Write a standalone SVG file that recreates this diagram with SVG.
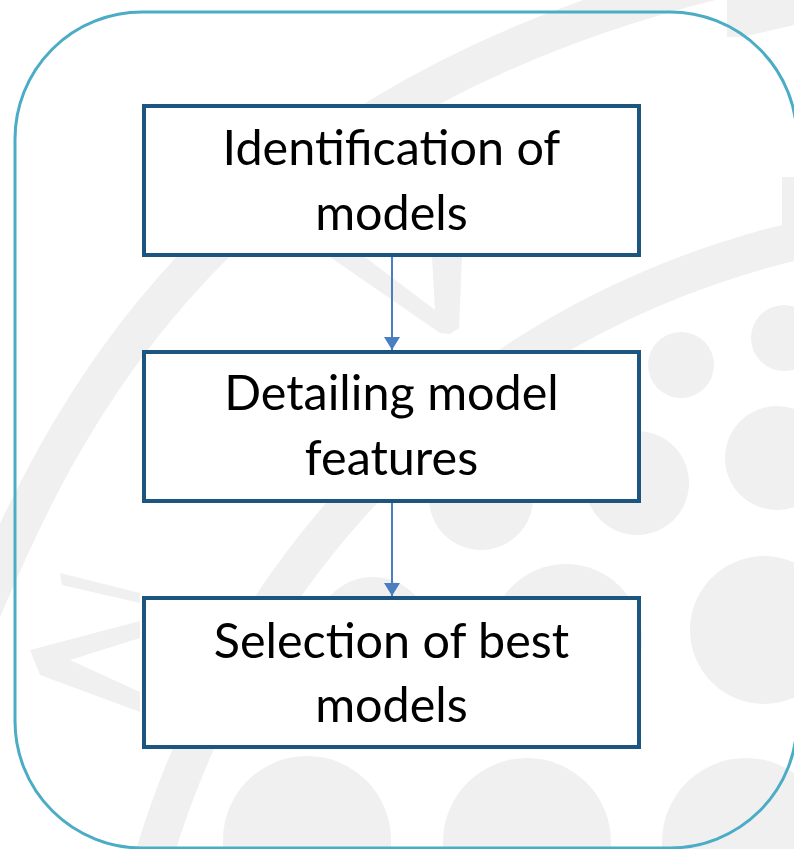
<svg xmlns="http://www.w3.org/2000/svg" width="794" height="849" viewBox="0 0 794 849">
<style>
.wm{fill:#F0F0F0;stroke:none}
.band{fill:none;stroke:#F0F0F0;stroke-width:38}
.box{fill:#FFFFFF;stroke:#1B5580;stroke-width:4}
.lbl{font-family:Lato,"Liberation Sans",sans-serif;font-size:48.5px;fill:#000000;text-anchor:middle}
.conn{stroke:#4A7EC0;stroke-width:2;fill:none}
</style>
<defs>
<marker id="ah" markerUnits="userSpaceOnUse" markerWidth="14" markerHeight="16" refX="13" refY="8" orient="auto" viewBox="0 0 13 16">
<path d="M0,0 L13,8 L0,16 Z" fill="#4A7EC0"/>
</marker>
</defs>
<rect x="0" y="0" width="794" height="849" fill="#FFFFFF"/>
<g id="watermark">
<path class="band" d="M -30 640 C 60 420, 210 90, 760 -30"/>
<path class="band" d="M 150 870 C 220 620, 420 330, 800 240"/>
<polygon class="wm" points="330,257 365,257 435,310 432,257 462,257 459,328 450,334 440,333"/>
<polygon class="wm" points="30,650 140,621 140,638 70,660 140,692 140,712 40,675"/>
<polygon class="wm" points="60,573 140,593 140,603 62,585"/>
<polygon class="wm" points="727,0 794,0 794,25 742,37 727,37"/>
<rect class="wm" x="782" y="177" width="12" height="50"/>
<circle class="wm" cx="681" cy="365" r="33"/>
<circle class="wm" cx="784" cy="338" r="33"/>
<circle class="wm" cx="777" cy="458" r="52"/>
<circle class="wm" cx="637" cy="483" r="52"/>
<circle class="wm" cx="481" cy="498" r="52"/>
<circle class="wm" cx="566" cy="640" r="76"/>
<circle class="wm" cx="373" cy="635" r="58"/>
<circle class="wm" cx="764" cy="630" r="74"/>
<circle class="wm" cx="307" cy="840" r="84"/>
<circle class="wm" cx="527" cy="842" r="84"/>
<circle class="wm" cx="746" cy="842" r="84"/>
</g>
<rect id="frame" x="15" y="12" width="782" height="836" rx="127" ry="127" fill="none" stroke="#4BACC6" stroke-width="3"/>
<g id="connectors">
<line class="conn" x1="392" y1="257" x2="392" y2="350" marker-end="url(#ah)"/>
<line class="conn" x1="392" y1="503" x2="392" y2="596" marker-end="url(#ah)"/>
</g>
<g id="node1">
<rect class="box" x="144" y="106" width="495" height="149"/>
<text class="lbl" x="391.5" y="165">Identification of</text>
<text class="lbl" x="391.5" y="230">models</text>
</g>
<g id="node2">
<rect class="box" x="144" y="352" width="495" height="149"/>
<text class="lbl" x="391.5" y="410">Detailing model</text>
<text class="lbl" x="391.5" y="475">features</text>
</g>
<g id="node3">
<rect class="box" x="144" y="598" width="495" height="149"/>
<text class="lbl" x="391.5" y="658">Selection of best</text>
<text class="lbl" x="391.5" y="722">models</text>
</g>
</svg>
